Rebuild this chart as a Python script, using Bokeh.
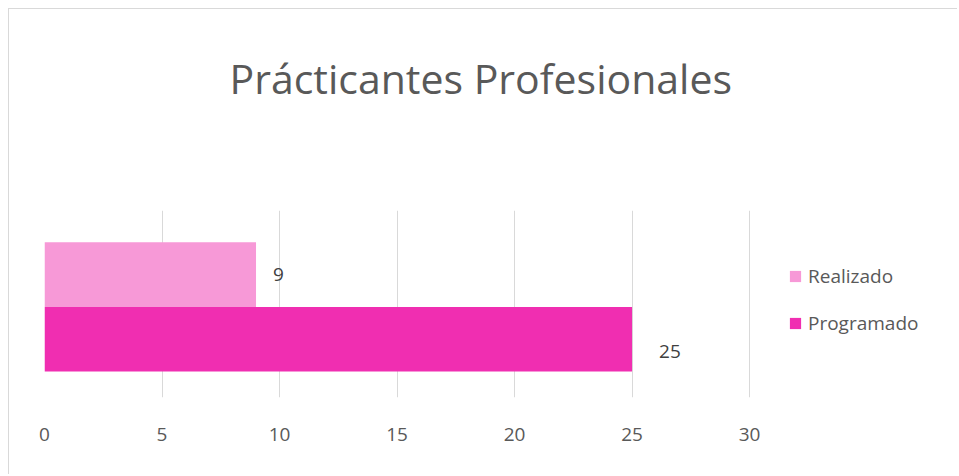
from bokeh.plotting import figure
from bokeh.models import ColumnDataSource, Range1d, Legend, LegendItem, Title, FixedTicker, LabelSet
from bokeh.core.properties import value
from bokeh.embed import file_html
from bokeh.resources import INLINE

# ---- data ----
series = ["Programado", "Realizado"]
values = [25, 9]
colors = ["#F02EB1", "#F799D7"]
x_ticks = [0, 5, 10, 15, 20, 25, 30]
title_text = "Prácticantes  Profesionales"

FONT = "Open Sans"
GREY = "#595959"

pos = [i + 0.5 for i in range(len(series))]
src = ColumnDataSource(dict(
    name=series, val=values, y=pos, color=colors,
    lbl=[str(v) for v in values],
    xoff=[27, 17], yoff=[-12, 0],
))

# frame spans to the right edge so the legend sits inside it; gridlines only to 30
p = figure(width=949, height=466, output_backend="svg", toolbar_location=None,
           x_range=Range1d(0, 38.89), y_range=Range1d(-0.4, 2.49),
           min_border_left=35, min_border_right=0, min_border_top=201,
           min_border_bottom=78)
p.title = None
p.outline_line_color = None
p.styles = {"margin-left": "8px", "margin-top": "8px",
            "border-top": "1px solid #d9d9d9", "border-left": "1px solid #d9d9d9"}

r = p.hbar(y="y", right="val", left=0, height=1.0, color="color", line_color=None, source=src)

labels = LabelSet(x="val", y="y", text="lbl", source=src, x_offset="xoff", y_offset="yoff",
                  text_font=value(FONT), text_font_size="19px", text_color="#404040",
                  text_baseline="middle", text_align="left")
p.add_layout(labels)

# spacer next to the frame, then the title above it
p.add_layout(Title(text=" ", standoff=102, text_font_size="1px"), "above")
p.add_layout(Title(text=title_text, align="left", offset=185, text_font=FONT, text_font_size="41px",
                   text_font_style="normal", text_color=GREY, standoff=0), "above")

p.xaxis.ticker = FixedTicker(ticks=x_ticks)
p.xaxis.axis_line_color = None
p.xaxis.major_tick_line_color = None
p.xaxis.minor_tick_line_color = None
p.xaxis.major_label_standoff = 24
p.xaxis.major_label_text_font = FONT
p.xaxis.major_label_text_font_size = "19px"
p.xaxis.major_label_text_color = GREY
p.yaxis.visible = False
p.ygrid.grid_line_color = None
p.xgrid.grid_line_color = "#d9d9d9"
p.xgrid.grid_line_width = 1

# legend: Realizado above Programado
items = [LegendItem(label=series[i], renderers=[r], index=i) for i in [1, 0]]
legend = Legend(items=items, location=(744, 61), orientation="vertical",
                label_text_font=FONT, label_text_font_size="19px", label_text_color=GREY,
                glyph_width=14, glyph_height=14, label_height=20, spacing=21,
                label_standoff=6, padding=0, margin=0, border_line_color=None,
                background_fill_alpha=0)
p.add_layout(legend, "center")

open("out.html", "w").write(file_html(p, INLINE))
